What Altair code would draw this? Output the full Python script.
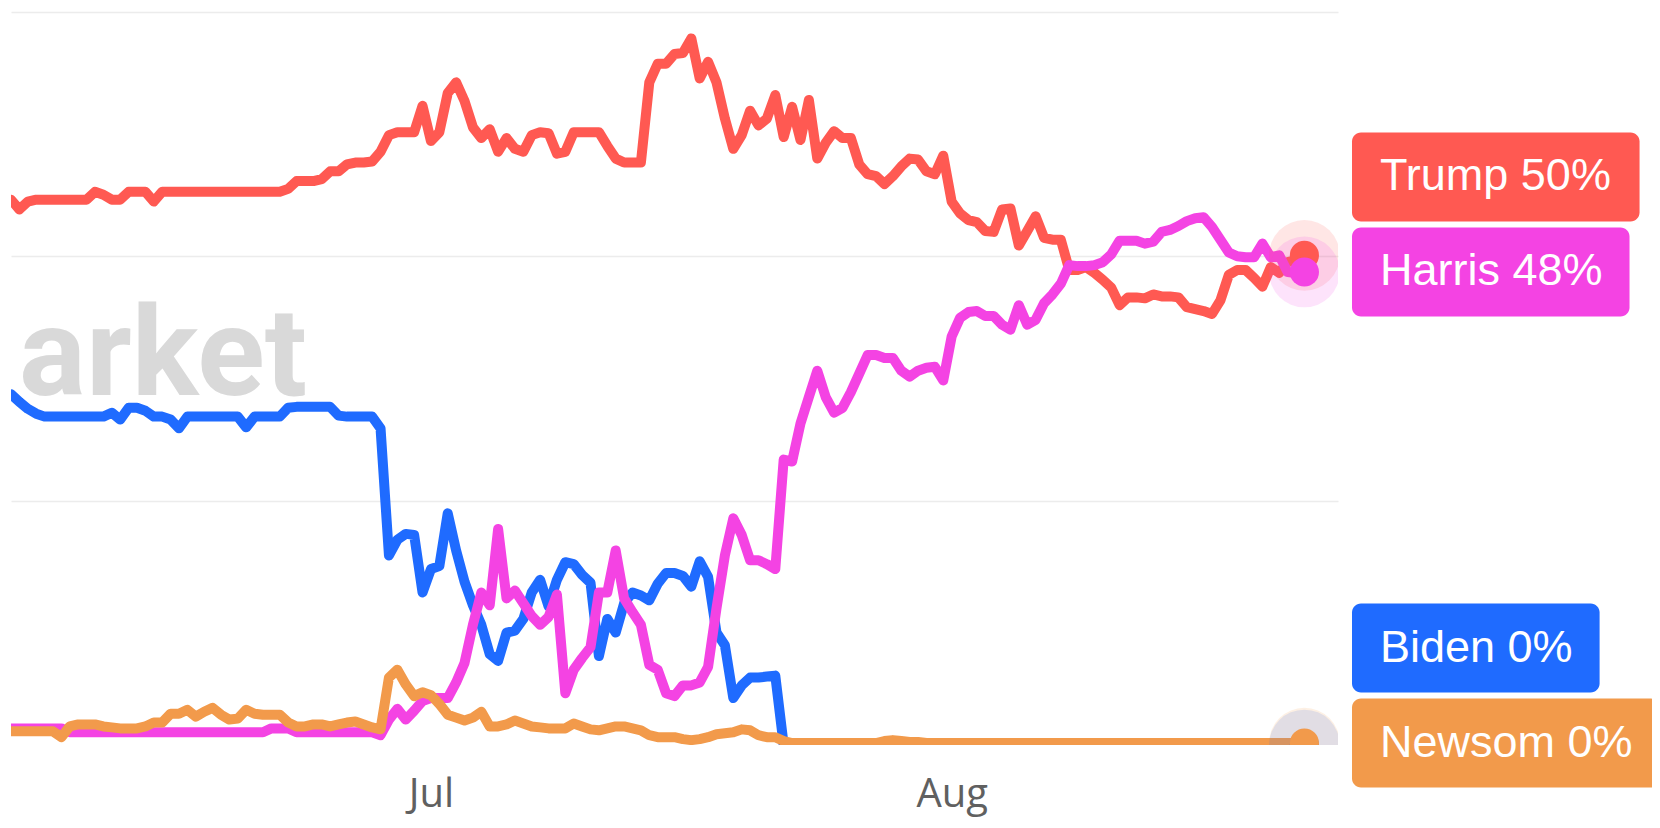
import altair as alt
import pandas as pd

# ---------------- data (percent) ----------------
NAMES = ["Trump", "Harris", "Biden", "Newsom"]
COLORS = ["#FF5952", "#F443E3", "#1F6BFF", "#F29A4B"]
DRAW_ORDER = ["Biden", "Trump", "Harris", "Newsom"]
WATERMARK = "arket"
TICK_DATES = ["2024-07-01", "2024-08-01"]

TIMES = pd.date_range("2024-06-06", periods=155, freq="12h")

TRUMP = [55.8, 54.8, 55.6, 55.8, 55.8, 55.8, 55.8, 55.8, 55.8, 55.8,
         56.6, 56.3, 55.8, 55.8, 56.6, 56.6, 56.6, 55.6, 56.6,
         56.6, 56.6, 56.6, 56.6, 56.6, 56.6, 56.6, 56.6, 56.6, 56.6, 56.6, 56.6, 56.6, 56.6,
         56.9, 57.7, 57.7, 57.7, 57.9, 58.7, 58.7, 59.4, 59.6, 59.6, 59.7, 60.7,
         62.4, 62.7, 62.7, 62.7, 65.4,
         61.8, 62.7, 66.7, 67.8, 65.9, 63.2, 62.1, 63.0, 60.7, 62.1,
         61.0, 60.7, 62.4, 62.7, 62.6, 60.5, 60.7, 62.7, 62.7, 62.7,
         62.7, 61.3, 60.0, 59.6, 59.6, 59.6,
         67.8, 69.7, 69.7, 70.7, 70.8, 72.3, 68.2, 69.9, 67.8,
         64.1, 61.0, 62.4, 64.9, 63.4, 64.1, 66.5, 62.2, 65.3, 61.9, 66.0,
         60.0, 61.6, 62.8, 62.1, 62.1, 59.4, 58.4, 58.2, 57.4, 58.2, 59.2, 60.0, 59.9, 58.7, 58.4, 60.3,
         55.6, 54.4, 53.7, 53.5, 52.6, 52.5, 54.8, 54.9, 51.1, 52.6, 54.1, 51.9, 51.7, 51.7,
         48.6, 48.6, 48.9, 48.3, 47.6, 46.8, 45.0, 45.8, 45.8, 45.7, 46.1, 45.9, 45.9, 45.8,
         44.8, 44.6, 44.4, 44.1, 45.5, 48.1, 48.6, 48.6, 47.8, 46.9, 48.9, 48.3, 49.4, 49.6, 50.1]

HARRIS = [1.7, 1.7, 1.7, 1.7, 1.7, 1.7, 1.7,
          1.3, 1.3, 1.3, 1.3, 1.3, 1.3, 1.3, 1.3, 1.3, 1.3, 1.3, 1.3,
          1.3, 1.3, 1.3, 1.3, 1.3, 1.3, 1.3, 1.3, 1.3, 1.3, 1.3, 1.3,
          1.7, 1.7, 1.7,
          1.3, 1.3, 1.3, 1.3, 1.3, 1.3, 1.3, 1.3, 1.3, 1.3,
          1.0,
          2.6, 3.7, 2.6, 3.5, 4.5, 4.8, 4.8, 4.8, 6.4, 8.4,
          12.3, 15.6, 14.3, 22.1, 15.0, 15.8, 14.5, 13.2, 12.3, 13.1, 15.4,
          5.3, 7.7, 8.9, 10.0, 15.6, 15.6, 19.9, 15.0, 13.6, 12.3,
          8.2, 7.7, 5.3, 5.0, 6.1, 6.1, 6.4, 8.0, 14.0, 19.4, 23.2, 21.5, 18.9, 18.9, 18.5, 18.0,
          29.2, 29.0, 32.9, 35.6, 38.3, 35.6, 34.0, 34.5, 36.1, 38.0,
          39.9, 39.9, 39.6, 39.6, 38.3, 37.7, 38.3, 38.6, 38.7, 37.3,
          41.8, 43.7, 44.3, 44.4, 43.9, 43.9, 43.0, 42.5, 45.0, 43.0, 43.5, 45.2, 46.1, 47.2,
          49.1, 49.0, 49.0, 49.1, 49.4, 50.2, 51.6, 51.6, 51.6, 51.3, 51.5, 52.5, 52.7, 53.1,
          53.6, 53.9, 54.0, 53.0, 51.7, 50.4, 50.0, 49.9, 49.9, 51.3, 49.9, 50.1, 48.4, 48.3, 48.4]

BIDEN = [35.9, 35.1, 34.4, 33.9,
         33.6, 33.6, 33.6, 33.6, 33.6, 33.6, 33.6, 33.6,
         34.0, 33.3, 34.5, 34.5, 34.2, 33.6, 33.6, 33.3, 32.4,
         33.6, 33.6, 33.6, 33.6, 33.6, 33.6, 33.6,
         32.5,
         33.6, 33.6, 33.6, 33.6,
         34.5,
         34.6, 34.6, 34.6, 34.6, 34.6,
         33.7,
         33.6, 33.6, 33.6, 33.6,
         32.4,
         19.4, 21.0, 21.6, 21.5, 15.6, 18.0, 18.3, 23.7, 19.9, 16.7,
         14.3, 12.3, 9.3, 8.6, 11.5, 11.7, 12.9, 15.6, 16.9, 14.2,
         16.9, 18.7, 18.5, 17.4, 16.6, 9.1, 12.9, 11.5, 14.5, 15.6,
         15.3, 14.8, 16.5, 17.6, 17.6, 17.3, 16.2, 18.8, 17.2, 11.5,
         10.2, 4.8, 6.1, 6.9, 6.9, 7.0, 7.1] + [0.0] * 63

NEWSOM = [1.4, 1.4, 1.4, 1.4, 1.4, 1.4,
          0.8,
          1.9, 2.1, 2.1, 2.1,
          1.9, 1.8, 1.7, 1.7, 1.7, 1.9, 2.3, 2.3,
          3.2, 3.2, 3.6, 2.9, 3.4, 3.8, 3.1, 2.6, 2.7, 3.6, 3.2, 3.1, 3.1, 3.1,
          2.3, 1.9, 1.9, 2.1, 2.1, 1.9, 2.1, 2.3, 2.4, 2.1, 1.8, 1.6,
          6.9, 7.7, 6.2, 5.0, 5.4, 5.1, 4.2, 3.1, 2.8, 2.5, 2.8, 3.4,
          1.9, 1.9, 2.1, 2.5, 2.2, 1.9, 1.8, 1.7, 1.7, 1.7, 2.2, 1.9, 1.6, 1.5, 1.7, 1.9, 1.9, 1.7, 1.5,
          1.0, 0.8, 0.8, 0.8, 0.6, 0.5, 0.6, 0.8, 1.1, 1.2, 1.3, 1.6, 1.5, 1.0, 0.8, 0.8, 0.4, 0.2] \
         + [0.2] * 10 + [0.4, 0.5, 0.4, 0.3, 0.3] + [0.2] * 46

SERIES = {"Trump": TRUMP, "Harris": HARRIS, "Biden": BIDEN, "Newsom": NEWSOM}
for k, s in SERIES.items():
    assert len(s) == len(TIMES), (k, len(s))

# ---------------- layout / style ----------------
PLOT_W, PLOT_H, Y_MAX = 1327, 733, 75
COLOR_OF = dict(zip(NAMES, COLORS))
LINE_W = 10
BOX_X = 1341
BOX_PAD_L = 28
BOX_PAD_R = 27
BOX_H = 89
BOX_STEP = 95
LABEL_SIZE = 45
ARIAL_W = {"T": .611, "r": .333, "u": .556, "m": .833, "p": .556, " ": .278, "%": .889,
           "H": .722, "a": .556, "i": .222, "s": .5, "B": .667, "d": .556, "e": .556,
           "n": .556, "N": .722, "w": .722, "o": .556}


def text_w(t):
    return sum(ARIAL_W.get(c, .556) for c in t) * LABEL_SIZE


def py(v):
    return PLOT_H - v * PLOT_H / Y_MAX


def val(p):
    return (PLOT_H - p) * Y_MAX / PLOT_H


times = TIMES.strftime("%Y-%m-%dT%H:%M")
rows = []
for name in NAMES:
    for t, v in zip(times, SERIES[name]):
        rows.append({"t": t, "series": name, "v": v})
df = pd.DataFrame(rows)

ends = pd.DataFrame([{"t": times[-1], "series": n, "v": SERIES[n][-1]} for n in DRAW_ORDER])

# label boxes stacked upward from the bottom
centers = {}
prev = None
for name in reversed(NAMES):
    c = py(SERIES[name][-1])
    if prev is not None:
        c = min(c, prev - BOX_STEP)
    centers[name] = c
    prev = c
lab_rows = []
for name in NAMES:
    c = centers[name]
    label = f"{name} {round(SERIES[name][-1])}%"
    lab_rows.append({"series": name, "label": label,
                     "center": val(c), "top": val(c - BOX_H / 2), "bot": val(c + BOX_H / 2),
                     "w": text_w(label) + BOX_PAD_L + BOX_PAD_R})
labels = pd.DataFrame(lab_rows)

x_scale = alt.Scale(domain=[alt.DateTime(year=2024, month=6, date=6),
                            alt.DateTime(year=2024, month=8, date=24)])
x_axis = alt.Axis(values=[alt.DateTime(year=2024, month=int(d[5:7]), date=1) for d in TICK_DATES],
                  format="%b", labelFont="Open Sans", labelFontSize=40, labelColor="#606060",
                  labelPadding=61, labelBaseline="alphabetic", labelFlush=False,
                  domain=False, ticks=False, grid=False, title=None)
y_scale = alt.Scale(domain=[0, Y_MAX], nice=False, zero=False)
y_axis = alt.Axis(values=[25, 50, 75], labels=False, domain=False, ticks=False, grid=True,
                  gridColor="#ececec", gridWidth=1.5, title=None)

X = alt.X("t:T", scale=x_scale, axis=x_axis)
Y = alt.Y("v:Q", scale=y_scale, axis=y_axis)
color = alt.Color("series:N", scale=alt.Scale(domain=NAMES, range=COLORS), legend=None)

watermark = alt.Chart(pd.DataFrame({"w": [WATERMARK]})).mark_text(
    font="Roboto", fontSize=125, fontWeight=700, color="#d9d9d9",
    align="left", baseline="alphabetic"
).encode(x=alt.value(8), y=alt.value(383), text="w:N")

layers = [watermark]
for name in DRAW_ORDER:
    layers.append(
        alt.Chart(df).transform_filter(alt.datum.series == name).mark_line(
            strokeWidth=LINE_W, clip=True, strokeJoin="round", strokeCap="round",
            color=COLOR_OF[name]
        ).encode(x=X, y=Y)
    )

halo = alt.Chart(ends).mark_circle(size=5000, opacity=0.15, clip=True).encode(x=X, y=Y, color=color)
dots = alt.Chart(ends).mark_circle(size=850, opacity=1, clip=True).encode(x=X, y=Y, color=color)
layers += [halo, dots]

for _, r in labels.iterrows():
    layers.append(
        alt.Chart(labels).transform_filter(alt.datum.series == r["series"]).mark_rect(
            cornerRadius=9, color=COLOR_OF[r["series"]]
        ).encode(x=alt.value(BOX_X), x2=alt.value(BOX_X + r["w"]),
                 y=alt.Y("top:Q", scale=y_scale, axis=y_axis), y2="bot:Q")
    )

label_text = alt.Chart(labels).mark_text(
    font="Liberation Sans", fontSize=LABEL_SIZE, color="white", align="left",
    baseline="alphabetic", dy=13.5
).encode(x=alt.value(BOX_X + BOX_PAD_L), y=alt.Y("center:Q", scale=y_scale, axis=y_axis),
         text="label:N")
layers.append(label_text)

chart = alt.layer(*layers).properties(
    width=PLOT_W, height=PLOT_H,
    autosize=alt.AutoSizeParams(type="none"),
    padding={"left": 3, "top": 4, "right": 314, "bottom": 73},
    background="white",
).configure_view(stroke=None)

chart.save("out.html", embed_options={"renderer": "svg", "actions": False})
